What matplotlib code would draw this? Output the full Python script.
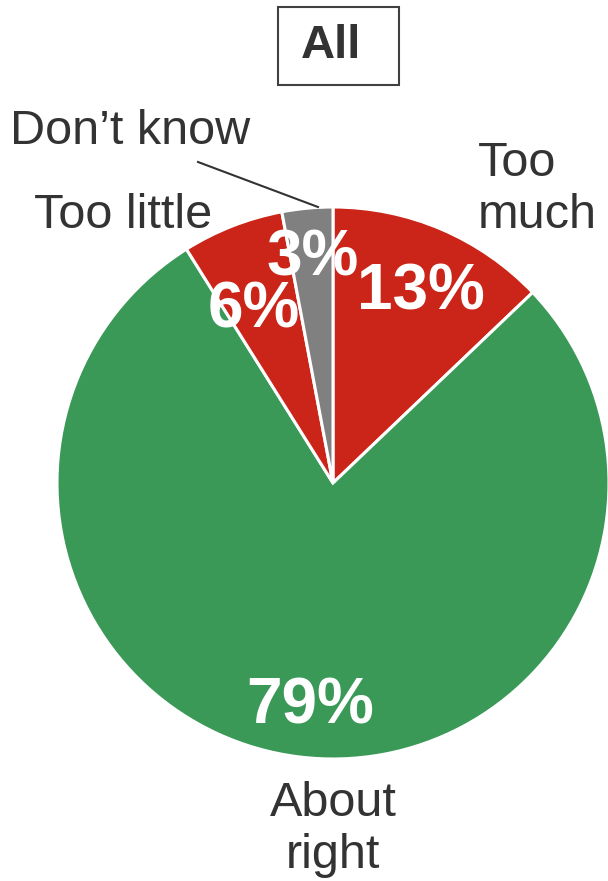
import matplotlib
matplotlib.use("Agg")
import matplotlib.pyplot as plt
from matplotlib.patches import Rectangle

plt.rcParams["font.family"] = ["Liberation Sans", "DejaVu Sans"]

# data (clockwise from 12 o'clock)
labels = ["Too much", "About right", "Too little", "Don\u2019t know"]
values = [13, 79, 6, 3]
pct_text = ["13%", "79%", "6%", "3%"]
colors = ["#CB2418", "#3B9958", "#CB2418", "#808080"]

W, H = 608, 881
fig = plt.figure(figsize=(W / 100, H / 100), dpi=100)
ax = fig.add_axes([0, 0, 1, 1])

cx, cy, r = 333, H - 483, 276
wedges, _ = ax.pie(values, colors=colors, startangle=90, counterclock=False,
                   center=(cx, cy), radius=r, frame=True,
                   wedgeprops=dict(edgecolor="white", linewidth=2.2))
ax.set_xlim(0, W)
ax.set_ylim(0, H)
ax.set_aspect("equal")
ax.axis("off")

# percentage labels inside slices
pct_pos = [(421, 292), (310, 706), (254, 310), (313, 259)]
for t, (x, y) in zip(pct_text, pct_pos):
    ax.text(x, H - y, t, color="white", fontsize=46, fontweight="bold",
            ha="center", va="center")

txt = "#333333"
ax.text(478, H - 189, "Too\nmuch", color=txt, fontsize=35, ha="left", va="center",
        linespacing=1.2)
ax.text(333, H - 829, "About\nright", color=txt, fontsize=35, ha="center", va="center",
        linespacing=1.2)
ax.text(123, H - 216, "Too little", color=txt, fontsize=35, ha="center", va="center")
ax.text(130, H - 132, labels[3], color=txt, fontsize=35, ha="center", va="center")
ax.plot([198, 318], [H - 162, H - 207], color="#333333", lw=1.5)

# title box
ax.add_patch(Rectangle((278, H - 85), 121, 78, fill=False, edgecolor="#404040", lw=1.5))
ax.text(331, H - 46, "All", color="#333333", fontsize=34, fontweight="bold",
        ha="center", va="center")

fig.savefig("out.png", dpi=100)
